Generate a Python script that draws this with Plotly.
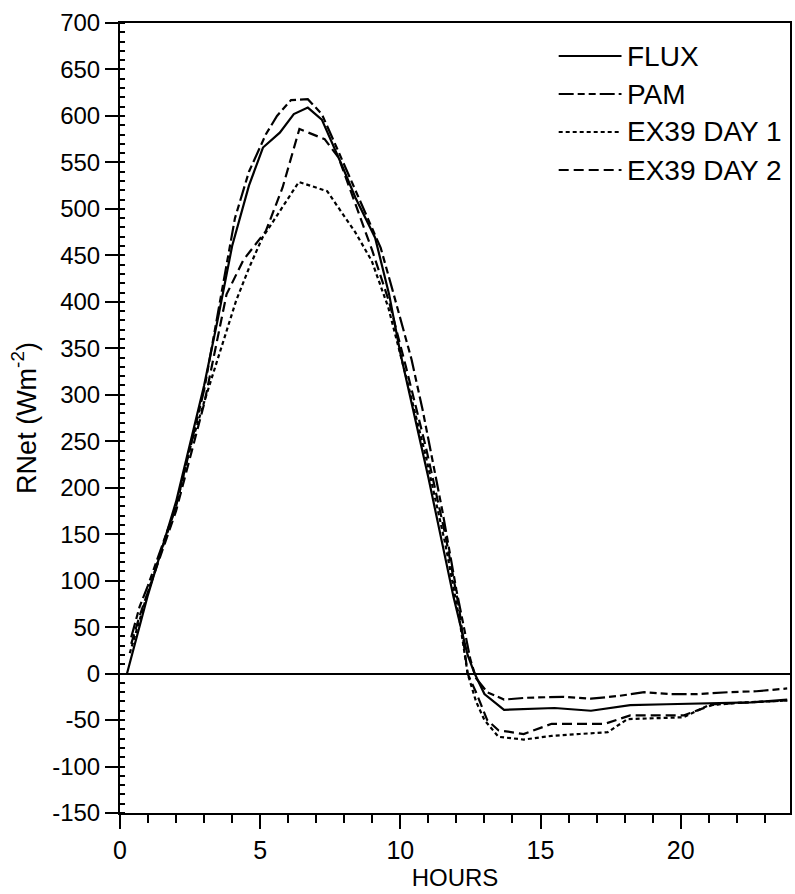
import plotly.graph_objects as go

# ---- data ----
flux_h = [0.25, 1.0, 2.0, 3.0, 3.5, 4.0, 4.6, 5.1, 5.7, 6.2, 6.7, 7.2, 7.9, 8.4, 9.1, 9.6, 10.0, 10.3, 11.0,
          11.9, 12.4, 12.65, 13.0, 13.7, 14.6, 15.5, 16.8, 18.2, 19.5, 21.3, 22.5, 23.8]
flux_v = [0, 85, 185, 310, 383, 460, 525, 566, 582, 602, 609, 596, 548, 512, 469, 408, 345, 304, 211,
          82, 20, 0, -22, -39, -38, -37, -40, -34, -33, -32, -31, -28]

pam_h = [0.4, 0.7, 1.0, 2.0, 3.0, 4.1, 4.6, 5.2, 5.6, 6.1, 6.7, 7.2, 7.7, 8.2, 8.6, 9.3, 9.7, 10.4, 10.8,
         11.5, 12.0, 12.5, 12.7, 13.1, 13.7, 14.5, 15.8, 16.8, 17.8, 18.7, 19.6, 20.6, 21.7, 22.7, 23.8]
pam_v = [39, 72, 95, 180, 305, 490, 540, 580, 600, 617, 618, 602, 568, 534, 505, 458, 415, 338, 283,
         175, 90, 15, -5, -20, -28, -26, -25, -27, -24, -20, -22, -22, -20, -19, -16]

day1_h = [0.35, 1.0, 2.0, 2.5, 3.0, 3.66, 4.14, 4.61, 5.08, 5.56, 6.38, 7.39, 8.39, 8.98, 9.57, 10.2, 10.9,
          11.6, 12.1, 12.4, 12.7, 13.0, 13.5, 14.4, 15.4, 16.4, 17.4, 18.1, 19.1, 20.1, 21.0, 22.3, 23.8]
day1_v = [22, 88, 180, 243, 292, 355, 401, 437, 469, 491, 529, 519, 475, 444, 394, 320, 235,
          140, 60, 0, -30, -50, -68, -71, -67, -65, -63, -49, -48, -47, -34, -31, -29]

day2_h = [0.4, 0.7, 1.0, 2.0, 3.0, 3.8, 4.4, 5.2, 5.8, 6.4, 7.3, 7.8, 8.4, 9.0, 9.6, 10.2, 10.9, 11.6,
          12.1, 12.4, 12.7, 13.1, 13.5, 14.4, 15.4, 16.3, 17.3, 18.2, 19.2, 20.1, 21.2, 22.4, 23.8]
day2_v = [32, 62, 88, 175, 290, 408, 445, 476, 523, 586, 575, 555, 505, 455, 400, 330, 245, 150,
          70, 0, -20, -50, -61, -65, -54, -54, -54, -45, -45, -45, -33, -31, -29]

names = ["FLUX", "PAM", "EX39 DAY 1", "EX39 DAY 2"]

y_tickvals = [700, 650, 600, 550, 500, 450, 400, 350, 300, 250, 200, 150, 100, 50, 0, -50, -100, -150]
y_ticktext = ["700", "650", "600", "550", "500", "450", "400", "350", "300", "250", "200", "150",
              "100", "50", "0", "-50", "-100", "-150"]
x_tickvals = [0, 5, 10, 15, 20]
x_ticktext = ["0", "5", "10", "15", "20"]

# ---- styling ----
dashes = ["solid", "15px,4px,7px,4px,7px,4px", "4px,3px", "10px,5px"]
FONT = "Liberation Sans, Arial, Helvetica, sans-serif"
W, H = 795, 894
ML, MR, MT, MB = 120, 3, 23, 81

fig = go.Figure()
series = [(flux_h, flux_v), (pam_h, pam_v), (day1_h, day1_v), (day2_h, day2_v)]
for (h, v), nm, d in zip(series, names, dashes):
    fig.add_trace(go.Scatter(x=h, y=v, mode="lines", name=nm, showlegend=False,
                             line=dict(color="black", width=2.2, dash=d)))

# legend drawn as line samples + text (long samples as in the reference)
pw, ph = W - ML - MR, H - MT - MB
def px2paper_x(px):
    return (px - ML) / pw
def px2paper_y(py):
    return (H - MB - py) / ph
row_y = [56, 94, 132, 170]
for nm, d, ry in zip(names, dashes, row_y):
    fig.add_shape(type="line", xref="paper", yref="paper",
                  x0=px2paper_x(560), x1=px2paper_x(623), y0=px2paper_y(ry), y1=px2paper_y(ry),
                  line=dict(color="black", width=2, dash=d))
    fig.add_annotation(xref="paper", yref="paper", x=px2paper_x(627), y=px2paper_y(ry),
                       xanchor="left", yanchor="middle", showarrow=False, text=nm,
                       font=dict(size=28, family=FONT, color="black"))

fig.update_layout(
    width=W, height=H,
    margin=dict(l=ML, r=MR, t=MT, b=MB),
    paper_bgcolor="white", plot_bgcolor="white",
    font=dict(family=FONT, size=24, color="black"),
    showlegend=False,
)
fig.update_xaxes(
    range=[0, 23.9], tickmode="array", tickvals=x_tickvals, ticktext=x_ticktext,
    ticks="outside", ticklen=14, tickwidth=2, tickcolor="black",
    minor=dict(dtick=1, tick0=0, ticks="outside", ticklen=8, tickwidth=2, tickcolor="black"),
    showline=True, linecolor="black", linewidth=2, mirror=True,
    showgrid=False, zeroline=False,
    tickfont=dict(size=25, family=FONT),
    title=dict(text="HOURS", font=dict(size=24, family=FONT), standoff=0),
)
fig.update_yaxes(
    range=[-150, 700], tickmode="array", tickvals=y_tickvals, ticktext=y_ticktext,
    ticks="outside", ticklen=13, tickwidth=2, tickcolor="black",
    minor=dict(dtick=10, tick0=0, ticks="inside", ticklen=5, tickwidth=1.5, tickcolor="black"),
    showline=True, linecolor="black", linewidth=2, mirror=True,
    showgrid=False, zeroline=True, zerolinecolor="black", zerolinewidth=2,
    tickfont=dict(size=24, family=FONT),
    title=dict(text="RNet (Wm<sup>-2</sup>)", font=dict(size=27, family=FONT), standoff=8),
)

fig.write_html("out.html")
